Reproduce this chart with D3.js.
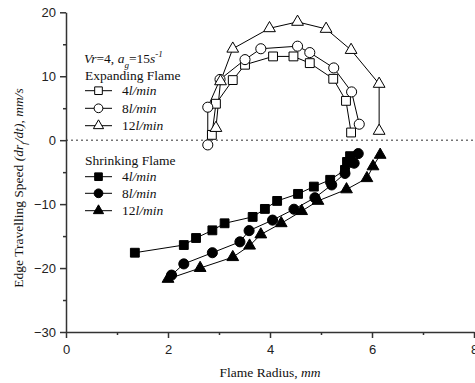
<!DOCTYPE html>
<html>
<head>
<meta charset="utf-8">
<script src="https://cdn.jsdelivr.net/npm/d3@7"></script>
<style>
  body { margin: 0; background: #fff; }
  svg { display: block; }
  .tick text { font-family: "Liberation Sans", Arial, sans-serif; font-size: 13px; fill: #222; }
  .serif { font-family: "Liberation Serif", "Times New Roman", serif; font-size: 13.5px; fill: #111; }
</style>
</head>
<body>
<svg width="475" height="383"></svg>
<script>
// Expanding flame [radius mm, speed mm/s]
const expand4 = [[2.86,0.83],[2.94,5.7],[3.27,9.4],[3.51,11.8],[4.06,13.1],[4.46,13.1],[4.78,12.05],[5.24,9.6],[5.49,6.15],[5.59,1.2]];
const expand8 = [[2.78,-0.74],[2.78,5.16],[3.02,9.5],[3.51,12.6],[3.82,14.3],[4.54,14.7],[4.78,13.7],[5.25,11.3],[5.6,7.55],[5.75,2.5]];
const expand12 = [[2.94,1.9],[3.03,9.2],[3.27,14.3],[3.99,17.5],[4.54,18.5],[5.1,17.4],[5.59,14.1],[6.14,8.8],[6.14,1.45]];

// Shrinking flame
const shrink4 = [[1.35,-17.6],[2.31,-16.4],[2.55,-15.3],[2.87,-14.1],[3.11,-13.0],[3.66,-12.0],[3.9,-10.75],[4.14,-9.5],[4.55,-8.4],[4.86,-7.26],[5.18,-6.2],[5.47,-4.65],[5.51,-3.4],[5.57,-2.5]];
const shrink8 = [[2.07,-21.1],[2.31,-19.35],[2.87,-17.6],[3.41,-15.9],[3.59,-14.15],[4.05,-12.5],[4.47,-10.8],[4.88,-9.0],[5.21,-7.0],[5.47,-5.2],[5.65,-3.6],[5.73,-2.1]];
const shrink12 = [[2.0,-21.7],[2.63,-20.0],[3.27,-18.3],[3.6,-16.5],[3.82,-14.75],[4.22,-13.0],[4.62,-11.1],[4.94,-9.5],[5.5,-7.7],[5.9,-5.95],[6.02,-4.1],[6.16,-2.3]];

const xTicks = [0, 2, 4, 6, 8];
const yTicks = [-30, -20, -10, 0, 10, 20];
const flowLabels = ["4", "8", "12"];

const svg = d3.select("svg");

const x = d3.scaleLinear().domain([0, 8]).range([66, 474]);
const y = d3.scaleLinear().domain([-30, 20]).range([332, 12.3]);

// zero reference line
svg.append("line")
  .attr("x1", x(0)).attr("x2", x(8))
  .attr("y1", y(0)).attr("y2", y(0))
  .attr("stroke", "#333").attr("stroke-width", 1)
  .attr("stroke-dasharray", "2,3");

// minor ticks
svg.append("g")
  .attr("transform", `translate(0,${y(-30)})`)
  .call(d3.axisBottom(x).tickValues([1, 3, 5, 7]).tickSize(3).tickFormat(""))
  .call(g => g.select(".domain").remove())
  .selectAll("line").attr("stroke", "#333").attr("stroke-width", 1.5);
svg.append("g")
  .attr("transform", `translate(${x(0)},0)`)
  .call(d3.axisLeft(y).tickValues([-25, -15, -5, 5, 15]).tickSize(3).tickFormat(""))
  .call(g => g.select(".domain").remove())
  .selectAll("line").attr("stroke", "#333").attr("stroke-width", 1.5);

// main axes
const xAxis = svg.append("g")
  .attr("transform", `translate(0,${y(-30)})`)
  .call(d3.axisBottom(x).tickValues(xTicks).tickSize(6).tickSizeOuter(0).tickPadding(4));
const yAxis = svg.append("g")
  .attr("transform", `translate(${x(0)},0)`)
  .call(d3.axisLeft(y).tickValues(yTicks).tickSize(6).tickSizeOuter(0).tickPadding(4));
[xAxis, yAxis].forEach(a => {
  a.select(".domain").attr("stroke", "#333").attr("stroke-width", 1.5);
  a.selectAll(".tick line").attr("stroke", "#333").attr("stroke-width", 1.5);
});
xAxis.selectAll(".tick text").attr("dy", "0.9em");

// series
const series = [
  { data: expand4, shape: d3.symbolSquare, size: 78, fill: "#fff" },
  { data: expand8, shape: d3.symbolCircle, size: 80, fill: "#fff" },
  { data: expand12, shape: d3.symbolTriangle, size: 60, fill: "#fff" },
  { data: shrink4, shape: d3.symbolSquare, size: 78, fill: "#000" },
  { data: shrink8, shape: d3.symbolCircle, size: 80, fill: "#000" },
  { data: shrink12, shape: d3.symbolTriangle, size: 60, fill: "#000" }
];

const line = d3.line().x(d => x(d[0])).y(d => y(d[1]));

series.forEach(s => {
  svg.append("path")
    .datum(s.data)
    .attr("fill", "none")
    .attr("stroke", "#000")
    .attr("stroke-width", 1)
    .attr("d", line);
});
series.forEach(s => {
  svg.append("g").selectAll("path")
    .data(s.data)
    .join("path")
    .attr("transform", d => `translate(${x(d[0])},${y(d[1])})`)
    .attr("d", d3.symbol(s.shape, s.size))
    .attr("fill", s.fill)
    .attr("stroke", "#000")
    .attr("stroke-width", 1);
});

// legend
const leg = svg.append("g");
const t1 = leg.append("text").attr("class", "serif").attr("x", 84).attr("y", 63);
t1.append("tspan").attr("font-style", "italic").text("Vr");
t1.append("tspan").text("=4, ");
t1.append("tspan").attr("font-style", "italic").text("a");
t1.append("tspan").attr("font-style", "italic").attr("font-size", "9px").attr("dy", 5).text("g");
t1.append("tspan").attr("dy", -5).text("=15");
t1.append("tspan").attr("font-style", "italic").text("s");
t1.append("tspan").attr("font-style", "italic").attr("font-size", "9px").attr("dy", -6).text("-1");

leg.append("text").attr("class", "serif").attr("x", 85).attr("y", 80).text("Expanding Flame");
leg.append("text").attr("class", "serif").attr("x", 85).attr("y", 165).text("Shrinking Flame");

const rowY = [90.7, 108.3, 125.7, 176.7, 193.3, 210.7];
series.forEach((s, i) => {
  const cy = rowY[i];
  leg.append("line")
    .attr("x1", 85).attr("x2", 112).attr("y1", cy).attr("y2", cy)
    .attr("stroke", "#000").attr("stroke-width", 1);
  leg.append("path")
    .attr("transform", `translate(98.5,${cy})`)
    .attr("d", d3.symbol(s.shape, s.size * 0.75))
    .attr("fill", s.fill).attr("stroke", "#000");
  const t = leg.append("text").attr("class", "serif").attr("x", 122).attr("y", cy + 4.5);
  t.append("tspan").text(flowLabels[i % 3]);
  t.append("tspan").attr("font-style", "italic").text("l/min");
});

// axis titles
const xt = svg.append("text").attr("class", "serif")
  .attr("x", x(4)).attr("y", 377).attr("text-anchor", "middle");
xt.append("tspan").text("Flame Radius, ");
xt.append("tspan").attr("font-style", "italic").text("mm");

const yt = svg.append("text").attr("class", "serif")
  .attr("transform", "translate(23,188) rotate(-90)")
  .attr("text-anchor", "middle");
yt.append("tspan").text("Edge Travelling Speed ");
yt.append("tspan").attr("font-style", "italic").text("(dr");
yt.append("tspan").attr("font-style", "italic").attr("font-size", "9px").attr("dy", 4).text("f");
yt.append("tspan").attr("font-style", "italic").attr("dy", -4).text("/dt), mm/s");
</script>
</body>
</html>
